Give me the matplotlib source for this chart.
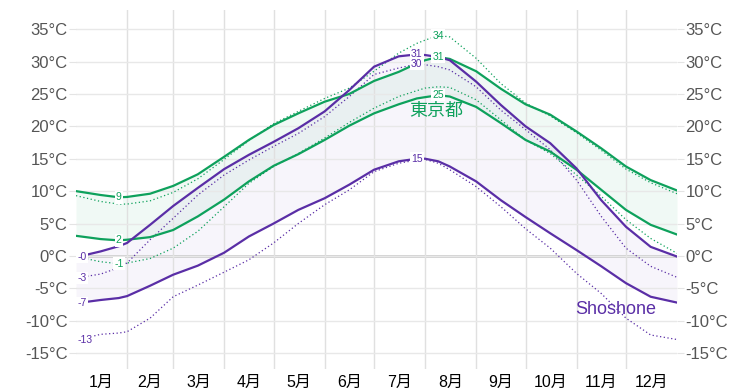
import matplotlib
matplotlib.use("Agg")
import matplotlib.pyplot as plt
import numpy as np

# day of year for each sample
days = [0, 15, 26, 31, 45, 59, 74, 90, 105, 120, 135, 151, 166, 181,
        196, 207, 212, 220, 227, 243, 258, 273, 288, 304, 319, 334, 349, 365]

# Tokyo (green)
tokyo_high = [10.0, 9.4, 9.05, 9.1, 9.6, 10.8, 12.6, 15.3, 17.9, 20.2, 22.0, 23.8, 25.0, 27.0,
              28.4, 29.7, 30.2, 30.7, 30.4, 28.5, 25.8, 23.4, 21.8, 19.2, 16.6, 13.8, 11.7, 10.1]
tokyo_high_dot = [9.3, 8.4, 8.0, 8.0, 8.5, 9.8, 11.9, 14.9, 17.8, 20.4, 22.3, 24.3, 25.9, 28.5,
                  31.3, 32.8, 33.3, 34.0, 33.8, 30.5, 26.6, 23.6, 21.6, 19.0, 16.3, 13.4, 11.3, 9.6]
tokyo_low = [3.1, 2.6, 2.4, 2.5, 2.9, 4.0, 6.1, 8.7, 11.5, 13.9, 15.7, 17.9, 20.1, 22.0,
             23.4, 24.3, 24.5, 24.8, 24.6, 23.0, 20.5, 17.9, 16.1, 13.3, 10.2, 7.1, 4.8, 3.3]
tokyo_low_dot = [-0.1, -0.9, -1.2, -1.1, -0.4, 1.2, 3.8, 7.6, 11.2, 13.8, 15.8, 18.2, 20.6, 22.8,
                 24.6, 25.5, 25.9, 26.1, 26.0, 24.1, 21.0, 17.9, 15.8, 12.5, 9.2, 5.6, 2.7, 0.4]

# Shoshone (purple)
shoshone_high = [-0.2, 0.7, 1.5, 2.0, 4.8, 7.7, 10.5, 13.4, 15.6, 17.6, 19.7, 22.3, 25.6, 29.2,
                 30.8, 31.1, 31.0, 30.7, 30.2, 26.9, 23.3, 20.0, 17.4, 13.5, 8.6, 4.5, 1.4, -0.1]
shoshone_high_dot = [-3.4, -2.8, -1.8, -1.1, 2.5, 5.8, 9.4, 12.5, 14.8, 16.9, 18.9, 21.5, 24.6, 28.0,
                     29.0, 29.6, 29.5, 29.2, 28.7, 26.1, 22.5, 19.5, 16.4, 11.7, 6.1, 1.2, -1.6, -3.3]
shoshone_low = [-7.3, -6.8, -6.5, -6.2, -4.6, -2.9, -1.5, 0.5, 3.0, 5.0, 7.1, 8.9, 11.0, 13.3,
                14.6, 15.0, 15.0, 14.6, 13.8, 11.5, 8.6, 6.0, 3.5, 0.9, -1.6, -4.2, -6.3, -7.2]
shoshone_low_dot = [-13.0, -12.1, -11.9, -11.7, -9.6, -6.3, -4.5, -2.5, -0.6, 2.0, 5.0, 7.9, 10.2, 13.0,
                    14.3, 14.8, 14.9, 14.3, 13.3, 10.7, 7.6, 4.2, 1.2, -2.7, -5.8, -9.6, -12.2, -12.9]

month_starts = [0, 31, 59, 90, 120, 151, 181, 212, 243, 273, 304, 334, 365]
month_labels = ["1月", "2月", "3月", "4月", "5月", "6月", "7月", "8月", "9月", "10月", "11月", "12月"]
temp_ticks = [-15, -10, -5, 0, 5, 10, 15, 20, 25, 30, 35]

GREEN = "#0ea15c"
PURPLE = "#5a2ea6"
FONT = ["Liberation Sans", "Noto Sans CJK JP", "DejaVu Sans"]
plt.rcParams["font.family"] = FONT

fig = plt.figure(figsize=(7.53, 3.92), dpi=100)
ax = fig.add_axes([76 / 753, 23 / 392, 601 / 753, 359 / 392])

d = np.array(days)

# bands
ax.fill_between(d, tokyo_low, tokyo_high, color=GREEN, alpha=0.06, lw=0, zorder=1)
ax.fill_between(d, shoshone_low, shoshone_high, color=PURPLE, alpha=0.045, lw=0, zorder=1)

# lines
for color, hi, hid, lo, lod in [(GREEN, tokyo_high, tokyo_high_dot, tokyo_low, tokyo_low_dot),
                                (PURPLE, shoshone_high, shoshone_high_dot, shoshone_low, shoshone_low_dot)]:
    ax.plot(d, hi, color=color, lw=1.6, zorder=3)
    ax.plot(d, lo, color=color, lw=1.6, zorder=3)
    ax.plot(d, hid, color=color, lw=0.9, ls=(0, (1, 2)), zorder=2)
    ax.plot(d, lod, color=color, lw=0.9, ls=(0, (1, 2)), zorder=2)

# value labels at extremes
labels = [
    (GREEN, tokyo_high, "min"), (GREEN, tokyo_high, "max"),
    (GREEN, tokyo_low, "min"), (GREEN, tokyo_low, "max"),
    (GREEN, tokyo_high_dot, "max"), (GREEN, tokyo_low_dot, "min"),
    (PURPLE, shoshone_high, "min"), (PURPLE, shoshone_high, "max"),
    (PURPLE, shoshone_low, "min"), (PURPLE, shoshone_low, "max"),
    (PURPLE, shoshone_high_dot, "min"), (PURPLE, shoshone_high_dot, "max"),
    (PURPLE, shoshone_low_dot, "min"),
]
for color, series, kind in labels:
    arr = np.array(series)
    i = int(np.argmin(arr)) if kind == "min" else int(np.argmax(arr))
    ha = "left" if i == 0 else "center"
    x = d[i] + (0.8 if i == 0 else 0)
    ax.text(x, arr[i], "{:.0f}".format(arr[i]), color=color, fontsize=7.5,
            ha=ha, va="center", zorder=5,
            bbox=dict(boxstyle="square,pad=0.12", fc="white", ec="none"))

ax.text(219, 22.3, "東京都", color=GREEN, fontsize=13, ha="center", va="center", zorder=5)
ax.text(328, -8.3, "Shoshone", color=PURPLE, fontsize=13, ha="center", va="center", zorder=5)

# axes styling
ax.axhline(0, color="#c4c4c4", lw=1.8, zorder=1.5)
ax.set_xlim(0, 365)
ax.set_ylim(-17.45, 37.95)
ax.set_yticks(temp_ticks)
ax.set_yticklabels([f"{t}°C" for t in temp_ticks])
ax.set_xticks(month_starts[1:-1])
ax.set_xticklabels([])
mids = [(a + b) / 2 for a, b in zip(month_starts[:-1], month_starts[1:])]
ax.set_xticks(mids, minor=True)
ax.set_xticklabels(month_labels, minor=True, fontsize=11.5, color="black")
ax.tick_params(axis="x", which="both", length=0)
ax.tick_params(axis="x", which="minor", pad=4)
ax.tick_params(axis="y", which="major", length=5, color="#e4e4e4", labelcolor="#555555",
               labelsize=12, pad=1, right=True, labelright=True)
ax.grid(axis="y", color="#e8e8e8", lw=1, zorder=0)
ax.grid(axis="x", which="major", color="#e0e0e0", lw=1, zorder=0)
for s in ax.spines.values():
    s.set_visible(False)

fig.savefig("out.png", dpi=100)
